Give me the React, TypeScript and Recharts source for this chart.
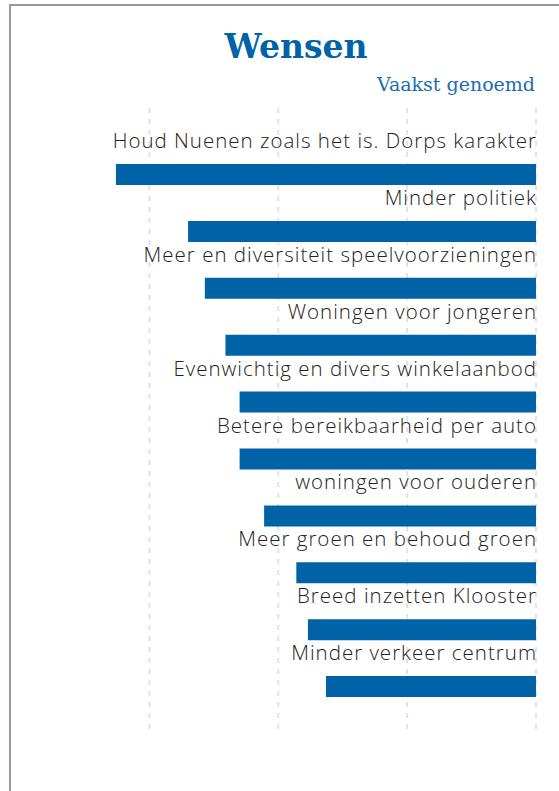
import { BarChart, Bar, XAxis, YAxis, CartesianGrid, LabelList } from "recharts";

// wishes, most mentioned first
const categories = [
  "Houd Nuenen zoals het is. Dorps karakter",
  "Minder politiek",
  "Meer en diversiteit speelvoorzieningen",
  "Woningen voor jongeren",
  "Evenwichtig en divers winkelaanbod",
  "Betere bereikbaarheid per auto",
  "woningen voor ouderen",
  "Meer groen en behoud groen",
  "Breed inzetten Klooster",
  "Minder verkeer centrum",
];
const values = [32.6, 27.0, 25.7, 24.1, 23.0, 23.0, 21.1, 18.6, 17.7, 16.3];
const gridTicks = [0, 10, 20, 30];
const xMax = 35;

const BLUE = "#0063a7";

const data = categories.map((name, i) => ({ name, value: values[i] }));

function BarLabel(props: any) {
  const { x, y, width, value } = props;
  const right = Math.max(Number(x), Number(x) + Number(width));
  return (
    <text
      x={right + 1}
      y={Number(y) - 16}
      textAnchor="end"
      fill="#222"
      fontFamily="'Open Sans', sans-serif"
      fontWeight={300}
      fontSize={20.5}
      letterSpacing={1}
    >
      {value}
    </text>
  );
}

// grid only at the tick values, not at the plot edge
function gridX(p: any) {
  const sc = p?.xAxis?.scale;
  return gridTicks.map((t) => {
    if (typeof sc === "function") return sc(t);
    if (sc && typeof sc.map === "function") return sc.map(t);
    return p.offset.left + p.offset.width * (1 - t / xMax);
  });
}

export default function App() {
  return (
    <div
      style={{
        position: "absolute",
        left: 0,
        top: 0,
        width: 559,
        height: 791,
        overflow: "hidden",
        background: "#fff",
      }}
    >
      <div
        style={{
          position: "absolute",
          left: 9,
          top: 4,
          width: 640,
          height: 900,
          borderLeft: "2px solid #999",
          borderTop: "2px solid #999",
        }}
      />
      <svg width={559} height={100} style={{ position: "absolute", left: 0, top: 0 }}>
        <text
          x={296}
          y={58}
          textAnchor="middle"
          fill={BLUE}
          fontFamily="'DejaVu Serif', serif"
          fontWeight={700}
          fontSize={33}
        >
          Wensen
        </text>
        <text
          x={535}
          y={91}
          textAnchor="end"
          fill="#1a6cb0"
          fontFamily="'DejaVu Serif', serif"
          fontSize={19}
        >
          Vaakst genoemd
        </text>
      </svg>
      <div style={{ position: "absolute", left: 0, top: 0 }}>
        <BarChart
          width={559}
          height={791}
          data={data}
          layout="vertical"
          margin={{ top: 108, right: 23, bottom: 57, left: 85 }}
        >
          <CartesianGrid
            horizontal={false}
            stroke="#e2e2e2"
            strokeWidth={2}
            strokeDasharray="5 6"
            verticalCoordinatesGenerator={gridX}
          />
          <XAxis type="number" reversed domain={[0, xMax]} ticks={gridTicks} hide />
          <YAxis type="category" dataKey="name" hide padding={{ top: 38, bottom: 19 }} />
          <Bar dataKey="value" fill={BLUE} barSize={21} isAnimationActive={false}>
            <LabelList dataKey="name" content={<BarLabel />} />
          </Bar>
        </BarChart>
      </div>
    </div>
  );
}
